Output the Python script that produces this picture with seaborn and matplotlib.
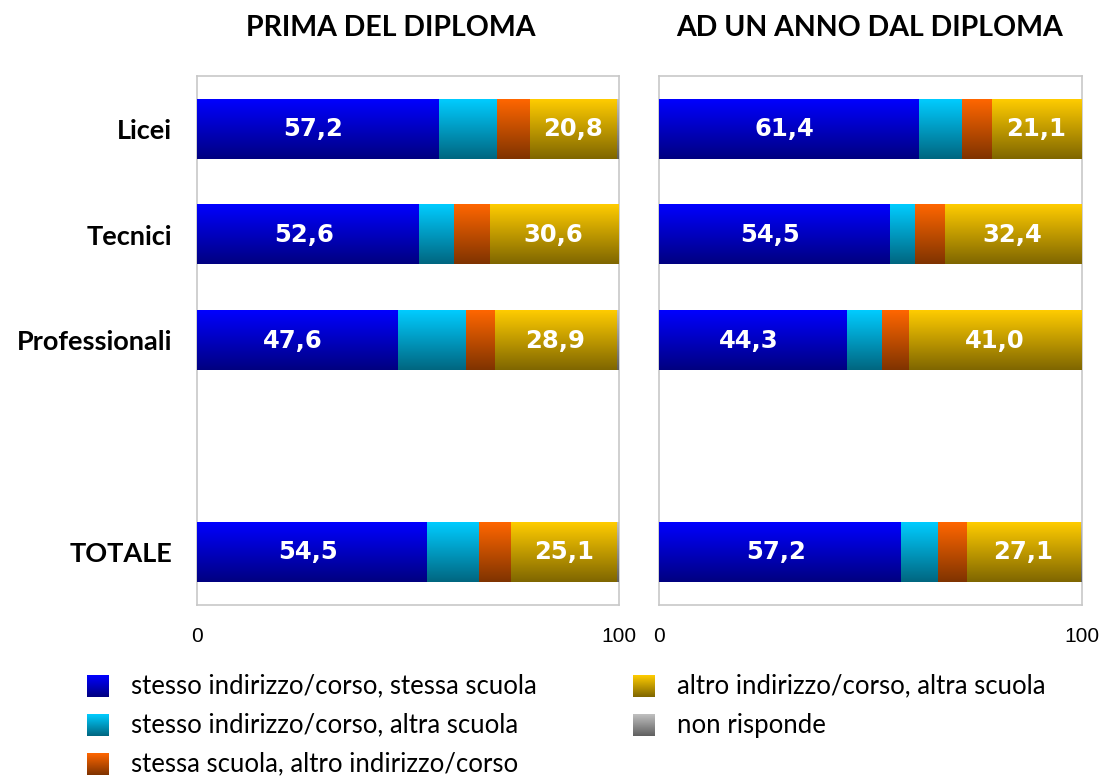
import matplotlib.pyplot as plt
import numpy as np
import pandas as pd
import seaborn as sns
from matplotlib.colors import to_rgb

sns.set_style('white')
plt.rcParams['font.family'] = ['Lato', 'DejaVu Sans']
plt.rcParams['text.color'] = 'black'
plt.rcParams['xtick.color'] = 'black'
plt.rcParams['ytick.color'] = 'black'

# --- dati ---
categorie = ['Licei', 'Tecnici', 'Professionali', 'TOTALE']
ordine = ['Licei', 'Tecnici', 'Professionali', ' ', 'TOTALE']
voci = ['stesso indirizzo/corso, stessa scuola',
        'stesso indirizzo/corso, altra scuola',
        'stessa scuola, altro indirizzo/corso',
        'altro indirizzo/corso, altra scuola',
        'non risponde']
titoli = ['PRIMA DEL DIPLOMA', 'AD UN ANNO DAL DIPLOMA']

# prima del diploma
prima_stesso_stessa = [57.2, 52.6, 47.6, 54.5]
prima_stesso_altra = [13.7, 8.3, 16.1, 12.1]
prima_scuola_altro = [7.8, 8.3, 6.7, 7.8]
prima_altro_altra = [20.8, 30.6, 28.9, 25.1]
prima_nr = [0.5, 0.2, 0.7, 0.5]

# ad un anno dal diploma
dopo_stesso_stessa = [61.4, 54.5, 44.3, 57.2]
dopo_stesso_altra = [10.2, 5.8, 8.2, 8.6]
dopo_scuola_altro = [7.1, 7.1, 6.4, 6.8]
dopo_altro_altra = [21.1, 32.4, 41.0, 27.1]
dopo_nr = [0.2, 0.2, 0.1, 0.3]

# colori sfumati: (alto, basso)
colori = [('#0000FF', '#000080'),
          ('#00CCFF', '#006680'),
          ('#FF6600', '#7F3300'),
          ('#FFCC00', '#7F6600'),
          ('#C0C0C0', '#606060')]


def tabella(serie):
    df = pd.DataFrame(dict(zip(voci, serie)), index=categorie)
    cum = df.cumsum(axis=1)
    cum.index.name = 'cat'
    return df, cum.reset_index()


def gradiente(alto, basso, n=128):
    t = np.linspace(0, 1, n)[:, None, None]
    return (1 - t) * np.array(to_rgb(alto)) + t * np.array(to_rgb(basso))


def sfuma(ax, patch, alto, basso, z):
    x0, y0 = patch.get_x(), patch.get_y()
    w, h = patch.get_width(), patch.get_height()
    ax.imshow(gradiente(alto, basso), extent=(x0, x0 + w, y0 + h, y0),
              aspect='auto', origin='upper', interpolation='bilinear', zorder=z)


fig = plt.figure(figsize=(11, 7.77), dpi=100)
pos = [[197 / 1100, 172 / 777, 422 / 1100, 529 / 777],
       [659 / 1100, 172 / 777, 423 / 1100, 529 / 777]]

dati = [
    [prima_stesso_stessa, prima_stesso_altra, prima_scuola_altro, prima_altro_altra, prima_nr],
    [dopo_stesso_stessa, dopo_stesso_altra, dopo_scuola_altro, dopo_altro_altra, dopo_nr],
]

for k, serie in enumerate(dati):
    ax = fig.add_axes(pos[k])
    df, cum = tabella(serie)
    # barre cumulate, dalla più lunga alla più corta
    for i in range(len(voci) - 1, -1, -1):
        n0 = len(ax.patches)
        sns.barplot(data=cum, x=voci[i], y='cat', order=ordine, orient='h',
                    color=colori[i][0], width=0.56, errorbar=None,
                    linewidth=0, ax=ax)
        for p in ax.patches[n0:]:
            if p.get_width() > 0:
                sfuma(ax, p, colori[i][0], colori[i][1], 3 + (len(voci) - i) * 0.1)

    # etichette valori
    for c in categorie:
        yy = ordine.index(c)
        v_blu = df.loc[c, voci[0]]
        inizio = df.loc[c, voci[:3]].sum()
        v_gia = df.loc[c, voci[3]]
        for xx, v in [(v_blu / 2 - 1, v_blu), (inizio + v_gia / 2, v_gia)]:
            ax.text(xx, yy, f'{v:.1f}'.replace('.', ','), ha='center', va='center',
                    color='white', fontsize=17.5, fontweight='bold', zorder=5,
                    family=['DejaVu Sans'])

    ax.set_xlim(0, 100)
    ax.set_ylim(4.5, -0.5)
    ax.set_xticks([0, 100])
    ax.set_xlabel('')
    ax.set_ylabel('')
    ax.tick_params(length=0)
    ax.tick_params(axis='x', pad=16, labelsize=15)
    for lab in ax.get_xticklabels():
        lab.set_family(['Liberation Sans', 'DejaVu Sans'])
    if k == 0:
        ax.tick_params(axis='y', pad=18)
        for lab in ax.get_yticklabels():
            lab.set_fontweight('bold')
            lab.set_fontsize(19.5)
    else:
        ax.set_yticklabels([])
    for s in ax.spines.values():
        s.set_color('#c8c8c8')
        s.set_linewidth(1.2)

fig.text(391 / 1100, 1 - 28 / 777, titoli[0], ha='center', va='center',
         fontsize=20.5, fontweight='bold')
fig.text(870 / 1100, 1 - 28 / 777, titoli[1], ha='center', va='center',
         fontsize=20.5, fontweight='bold')

# --- legenda ---
leg = fig.add_axes([0, 0, 1, 117 / 777])
posti = [(87, 686), (87, 725), (87, 764), (633, 686), (633, 725)]
for i, (x, y) in enumerate(posti):
    leg.imshow(gradiente(colori[i][0], colori[i][1], 64),
               extent=(x, x + 22, y + 11, y - 11), aspect='auto', origin='upper')
    leg.text(x + 44, y, voci[i], ha='left', va='center', fontsize=18.5)
leg.set_xlim(0, 1100)
leg.set_ylim(777, 660)
leg.axis('off')

fig.savefig('out.png', dpi=100)
